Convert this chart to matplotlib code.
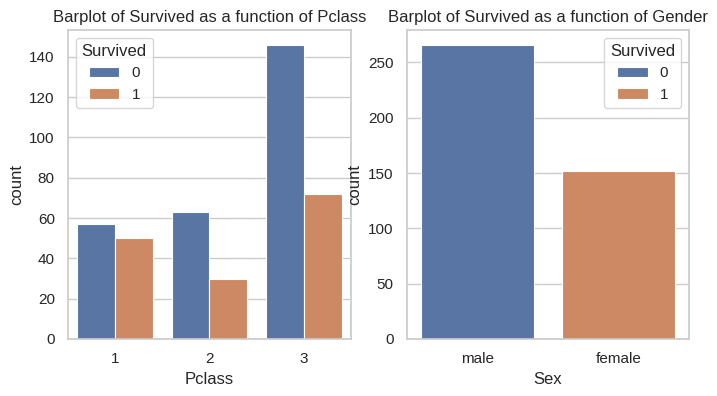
import matplotlib
matplotlib.use("Agg")
import matplotlib.pyplot as plt
import seaborn as sns
import numpy as np

sns.set_theme(style="whitegrid")
plt.rcParams['font.family'] = ['Liberation Sans', 'DejaVu Sans']

pclass = ["1", "2", "3"]
died = [57, 63, 146]
survived = [50, 30, 72]
sex = ["male", "female"]
sex_counts = [266, 152]
sex_hue = ["0", "1"]

pal = sns.color_palette("deep")
blue = sns.desaturate(pal[0], 0.75)
orange = sns.desaturate(pal[1], 0.75)

W, H = 717, 396
fig = plt.figure(figsize=(W/100, H/100), dpi=100)
ax1 = fig.add_axes([68/W, 1-339/H, (351-68)/W, (339-30)/H])
ax2 = fig.add_axes([407/W, 1-339/H, (689-407)/W, (339-30)/H])

x = np.arange(len(pclass))
w = 0.4
ax1.bar(x - w/2, died, w, color=blue, label="0", edgecolor="white", linewidth=0.8)
ax1.bar(x + w/2, survived, w, color=orange, label="1", edgecolor="white", linewidth=0.8)
ax1.set_xticks(x)
ax1.set_xticklabels(pclass)
ax1.set_xlim(-0.5, 2.5)
ax1.set_ylim(0, max(died) * 1.05)
ax1.set_xlabel("Pclass")
ax1.set_ylabel("count")
ax1.set_title("Barplot of Survived as a function of Pclass", fontsize=12)
ax1.legend(title="Survived", loc="upper left")
ax1.xaxis.grid(False)

xs = np.arange(len(sex))
cols = [blue, orange]
for i in range(len(sex)):
    ax2.bar(xs[i], sex_counts[i], 0.8, color=cols[i], label=sex_hue[i], edgecolor="white", linewidth=0.8)
ax2.set_xticks(xs)
ax2.set_xticklabels(sex)
ax2.set_xlim(-0.5, 1.5)
ax2.set_ylim(0, max(sex_counts) * 1.05)
ax2.set_xlabel("Sex")
ax2.set_ylabel("count")
ax2.set_title("Barplot of Survived as a function of Gender", fontsize=12)
ax2.legend(title="Survived", loc="upper right")
ax2.xaxis.grid(False)

fig.savefig("out.png", dpi=100)
